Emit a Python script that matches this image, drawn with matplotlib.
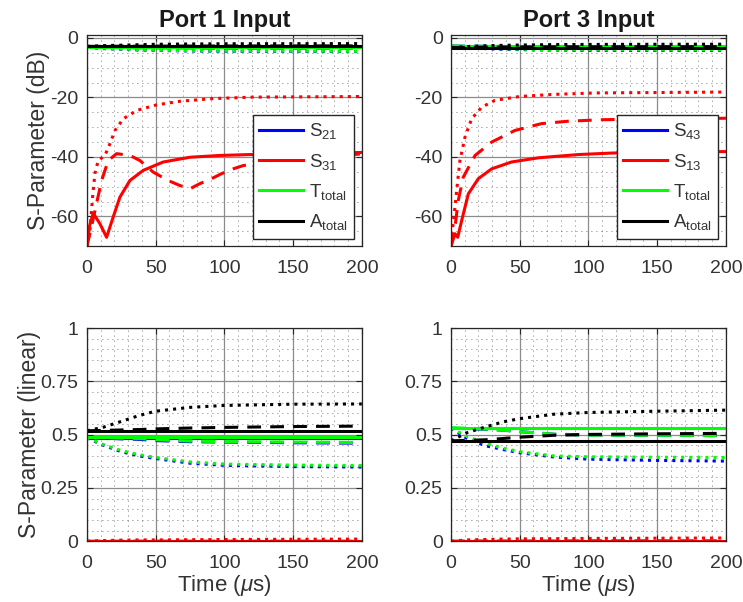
import numpy as np
import matplotlib.pyplot as plt

plt.rcParams['font.family'] = ['Liberation Sans', 'DejaVu Sans']
plt.rcParams['mathtext.fontset'] = 'custom'
plt.rcParams['mathtext.rm'] = 'Liberation Sans'
plt.rcParams['mathtext.it'] = 'Liberation Sans:italic'
plt.rcParams['axes.unicode_minus'] = False

# time samples (us) used for the slowly varying curves
t_flat = [0, 12, 25, 38, 50, 75, 100, 150, 200]

# ---------------- Port 1 input, dB ----------------
t31_sol = [0, 2, 4.6, 9.5, 14.3, 19.1, 24, 31.3, 41, 55.5, 75, 96.7, 118.5, 150, 200]
s31_sol = [-70, -63, -58.9, -62.5, -67, -60.2, -53.5, -47.9, -44.5, -41.7, -40.1, -39.5, -39.2, -38.9, -38.5]
t31_das = [0, 4, 7.3, 10.7, 15.5, 21.6, 31.3, 38.5, 48.2, 59, 67.6, 75, 82, 90.7, 98, 106.4, 113.7, 150, 200]
s31_das = [-70, -62, -55, -47.9, -41.2, -38.9, -39.5, -41.2, -45.1, -47.9, -49.6, -50.7, -49, -47.3, -45.6, -44, -42.9, -40.5, -39]
t31_dot = [0, 2.2, 4.1, 5.8, 8.2, 13.1, 16.7, 20.4, 26.4, 36.1, 50.7, 67.6, 91.9, 121, 200]
s31_dot = [-70, -64.7, -53.5, -45.6, -41.2, -39.5, -35.6, -31.1, -27.2, -24.4, -22.5, -21.3, -20.4, -19.9, -19.7]

s21_db_sol = [-3.15, -3.15, -3.15, -3.15, -3.15, -3.15, -3.15, -3.15, -3.15]
s21_db_das = [-3.15, -3.2, -3.25, -3.3, -3.3, -3.35, -3.4, -3.4, -3.4]
s21_db_dot = [-3.15, -3.6, -3.8, -4.1, -4.2, -4.4, -4.5, -4.55, -4.6]
tt1_db_sol = [-3.1, -3.1, -3.1, -3.1, -3.1, -3.1, -3.1, -3.1, -3.1]
tt1_db_das = [-3.1, -3.15, -3.2, -3.2, -3.25, -3.3, -3.3, -3.35, -3.35]
tt1_db_dot = [-3.1, -3.5, -3.7, -4.0, -4.1, -4.3, -4.4, -4.45, -4.5]
at1_db_sol = [-2.85, -2.85, -2.85, -2.85, -2.85, -2.85, -2.85, -2.85, -2.85]
at1_db_das = [-2.85, -2.85, -2.8, -2.8, -2.77, -2.75, -2.72, -2.7, -2.68]
at1_db_dot = [-2.85, -2.6, -2.45, -2.3, -2.15, -2.05, -1.97, -1.94, -1.92]

# ---------------- Port 3 input, dB ----------------
t13_sol = [0, 2.9, 4.9, 7.8, 12.6, 19.9, 29.6, 44, 63.5, 92.6, 116.8, 150, 200]
s13_sol = [-70, -65.8, -67, -61.3, -52.4, -47.3, -44, -41.7, -40.3, -39.2, -38.7, -38.4, -38.2]
t13_das = [0, 2.9, 5.3, 8.9, 17.5, 29.6, 46.5, 65.9, 85.3, 109.6, 150, 200]
s13_das = [-70, -63.6, -54.6, -46.8, -39.5, -35, -31.1, -28.8, -28, -27.5, -27.2, -27]
t13_dot = [0, 2.4, 4.1, 6.5, 10.2, 15, 22.3, 31.9, 49.7, 74, 105, 200]
s13_dot = [-69, -59, -51.3, -41.2, -33.3, -27.2, -23.3, -21, -19.7, -19, -18.5, -18.2]

s43_db_sol = [-2.76, -2.76, -2.76, -2.76, -2.76, -2.76, -2.76, -2.76, -2.76]
s43_db_das = [-2.76, -2.8, -2.85, -2.9, -2.95, -3.0, -3.03, -3.05, -3.06]
s43_db_dot = [-2.76, -3.2, -3.6, -3.85, -3.95, -4.1, -4.2, -4.23, -4.25]
tt3_db_sol = [-2.74, -2.74, -2.74, -2.74, -2.74, -2.74, -2.74, -2.74, -2.74]
tt3_db_das = [-2.74, -2.78, -2.83, -2.88, -2.92, -2.98, -3.02, -3.04, -3.05]
tt3_db_dot = [-2.74, -3.1, -3.45, -3.65, -3.8, -3.95, -4.0, -4.04, -4.06]
at3_db_sol = [-3.27, -3.27, -3.27, -3.27, -3.27, -3.27, -3.27, -3.27, -3.27]
at3_db_das = [-3.27, -3.2, -3.12, -3.08, -3.06, -3.02, -3.0, -2.97, -2.96]
at3_db_dot = [-3.27, -2.9, -2.65, -2.5, -2.4, -2.25, -2.2, -2.15, -2.12]

# ---------------- Port 1 input, linear ----------------
s21_lin_sol = [0.485, 0.485, 0.485, 0.485, 0.485, 0.485, 0.485, 0.485, 0.485]
s21_lin_das = [0.485, 0.484, 0.48, 0.478, 0.472, 0.467, 0.465, 0.462, 0.46]
s21_lin_dot = [0.485, 0.45, 0.42, 0.4, 0.388, 0.366, 0.356, 0.35, 0.348]
s31_lin_sol = [0, 0, 0, 0, 0, 0, 0, 0, 0]
s31_lin_das = [0, 0.0001, 0.0001, 0.0001, 0.0001, 0.0001, 0.0001, 0.0001, 0.0001]
s31_lin_dot = [0, 0.003, 0.005, 0.006, 0.006, 0.007, 0.008, 0.009, 0.01]
tt1_lin_sol = [0.487, 0.487, 0.487, 0.487, 0.487, 0.487, 0.487, 0.487, 0.487]
tt1_lin_das = [0.487, 0.486, 0.484, 0.482, 0.476, 0.47, 0.467, 0.465, 0.463]
tt1_lin_dot = [0.487, 0.453, 0.425, 0.406, 0.393, 0.372, 0.362, 0.357, 0.355]
at1_lin_sol = [0.518, 0.518, 0.518, 0.518, 0.518, 0.518, 0.518, 0.518, 0.518]
at1_lin_das = [0.518, 0.52, 0.522, 0.524, 0.527, 0.531, 0.534, 0.538, 0.54]
at1_lin_dot = [0.518, 0.535, 0.562, 0.59, 0.61, 0.628, 0.637, 0.643, 0.644]

# ---------------- Port 3 input, linear ----------------
s43_lin_sol = [0.53, 0.53, 0.53, 0.53, 0.53, 0.53, 0.53, 0.53, 0.53]
s43_lin_das = [0.53, 0.528, 0.525, 0.521, 0.514, 0.502, 0.499, 0.497, 0.495]
s43_lin_dot = [0.53, 0.48, 0.448, 0.43, 0.415, 0.395, 0.385, 0.379, 0.376]
s13_lin_sol = [0, 0, 0, 0, 0, 0, 0, 0, 0]
s13_lin_das = [0, 0.001, 0.001, 0.001, 0.001, 0.001, 0.002, 0.002, 0.002]
s13_lin_dot = [0, 0.006, 0.008, 0.01, 0.011, 0.012, 0.013, 0.014, 0.015]
tt3_lin_sol = [0.532, 0.532, 0.532, 0.532, 0.532, 0.532, 0.532, 0.532, 0.532]
tt3_lin_das = [0.532, 0.53, 0.526, 0.521, 0.514, 0.502, 0.498, 0.497, 0.496]
tt3_lin_dot = [0.532, 0.49, 0.46, 0.436, 0.42, 0.4, 0.396, 0.394, 0.393]
at3_lin_sol = [0.471, 0.471, 0.471, 0.471, 0.471, 0.471, 0.471, 0.471, 0.471]
at3_lin_das = [0.471, 0.473, 0.476, 0.482, 0.488, 0.497, 0.501, 0.504, 0.506]
at3_lin_dot = [0.471, 0.51, 0.536, 0.56, 0.575, 0.596, 0.604, 0.61, 0.615]

BLUE = '#0000ff'
RED = '#ff0000'
GREEN = '#00ff00'
BLACK = '#000000'
LW = 2.2
DASH = (4.5, 3)
TXT = '0.2'

fig = plt.figure(figsize=(7.43, 6.02), dpi=100)
ax_tl = fig.add_axes([0.117, 0.591, 0.370, 0.351])
ax_tr = fig.add_axes([0.607, 0.591, 0.370, 0.351])
ax_bl = fig.add_axes([0.117, 0.101, 0.370, 0.354])
ax_br = fig.add_axes([0.607, 0.101, 0.370, 0.354])


def draw(ax, color, tx, sol, das, dot, label, t_sol=None, t_das=None, t_dot=None):
    ax.plot(t_sol if t_sol is not None else tx, sol, '-', color=color, lw=LW, label=label)
    ax.plot(t_das if t_das is not None else tx, das, '--', color=color, lw=LW, dashes=DASH)
    ax.plot(t_dot if t_dot is not None else tx, dot, ':', color=color, lw=LW)


def style(ax, ylim, yticks, yminor):
    ax.set_xlim(0, 200)
    ax.set_ylim(*ylim)
    ax.set_xticks([0, 50, 100, 150, 200])
    ax.set_xticks(np.arange(0, 201, 10), minor=True)
    ax.set_yticks(yticks)
    ax.set_yticks(yminor, minor=True)
    ax.grid(True, which='major', color='0.55', lw=0.9, ls='-')
    ax.grid(True, which='minor', color='0.3', lw=0.6, ls=(0, (1, 5)))
    ax.set_axisbelow(True)
    ax.tick_params(which='both', direction='in', top=True, right=True, labelsize=14,
                   colors='0.15', labelcolor=TXT)
    ax.tick_params(which='minor', length=0)
    ax.tick_params(which='major', length=4)
    ax.tick_params(axis='x', pad=10)
    ax.tick_params(axis='y', pad=6)
    for s in ax.spines.values():
        s.set_color('0.15')
        s.set_linewidth(0.9)


# Port 1, dB
draw(ax_tl, BLUE, t_flat, s21_db_sol, s21_db_das, s21_db_dot, r'$\mathrm{S_{21}}$')
draw(ax_tl, RED, None, s31_sol, s31_das, s31_dot, r'$\mathrm{S_{31}}$', t31_sol, t31_das, t31_dot)
draw(ax_tl, GREEN, t_flat, tt1_db_sol, tt1_db_das, tt1_db_dot, r'$\mathrm{T_{total}}$')
draw(ax_tl, BLACK, t_flat, at1_db_sol, at1_db_das, at1_db_dot, r'$\mathrm{A_{total}}$')

# Port 3, dB
draw(ax_tr, BLUE, t_flat, s43_db_sol, s43_db_das, s43_db_dot, r'$\mathrm{S_{43}}$')
draw(ax_tr, RED, None, s13_sol, s13_das, s13_dot, r'$\mathrm{S_{13}}$', t13_sol, t13_das, t13_dot)
draw(ax_tr, GREEN, t_flat, tt3_db_sol, tt3_db_das, tt3_db_dot, r'$\mathrm{T_{total}}$')
draw(ax_tr, BLACK, t_flat, at3_db_sol, at3_db_das, at3_db_dot, r'$\mathrm{A_{total}}$')

# Port 1, linear
draw(ax_bl, BLUE, t_flat, s21_lin_sol, s21_lin_das, s21_lin_dot, None)
draw(ax_bl, RED, t_flat, s31_lin_sol, s31_lin_das, s31_lin_dot, None)
draw(ax_bl, GREEN, t_flat, tt1_lin_sol, tt1_lin_das, tt1_lin_dot, None)
draw(ax_bl, BLACK, t_flat, at1_lin_sol, at1_lin_das, at1_lin_dot, None)

# Port 3, linear
draw(ax_br, BLUE, t_flat, s43_lin_sol, s43_lin_das, s43_lin_dot, None)
draw(ax_br, RED, t_flat, s13_lin_sol, s13_lin_das, s13_lin_dot, None)
draw(ax_br, GREEN, t_flat, tt3_lin_sol, tt3_lin_das, tt3_lin_dot, None)
draw(ax_br, BLACK, t_flat, at3_lin_sol, at3_lin_das, at3_lin_dot, None)

for ax in (ax_tl, ax_tr):
    style(ax, (-70, 1), [-60, -40, -20, 0], np.arange(-70, 1, 5))
    leg = ax.legend(loc='lower right', fontsize=13.5, handlelength=2.3, labelspacing=0.55,
                    fancybox=False, framealpha=1, edgecolor='0.15', borderaxespad=0.4,
                    borderpad=0.35, handletextpad=0.35)
    for txt in leg.get_texts():
        txt.set_color(TXT)
for ax in (ax_bl, ax_br):
    style(ax, (0, 1), [0, 0.25, 0.5, 0.75, 1], np.arange(0, 1.001, 0.05))
    ax.set_yticklabels(['0', '0.25', '0.5', '0.75', '1'])
    ax.set_xlabel(r'Time ($\mu$s)', fontsize=16, color=TXT, labelpad=1)

ax_tl.set_title('Port 1 Input', fontsize=17, fontweight='bold', pad=6, color='0.1')
ax_tr.set_title('Port 3 Input', fontsize=17, fontweight='bold', pad=6, color='0.1')
ax_tl.set_ylabel('S-Parameter (dB)', fontsize=16.5, color=TXT, labelpad=0)
ax_bl.set_ylabel('S-Parameter (linear)', fontsize=16.5, color=TXT, labelpad=0)

fig.savefig('out.png', dpi=100)
